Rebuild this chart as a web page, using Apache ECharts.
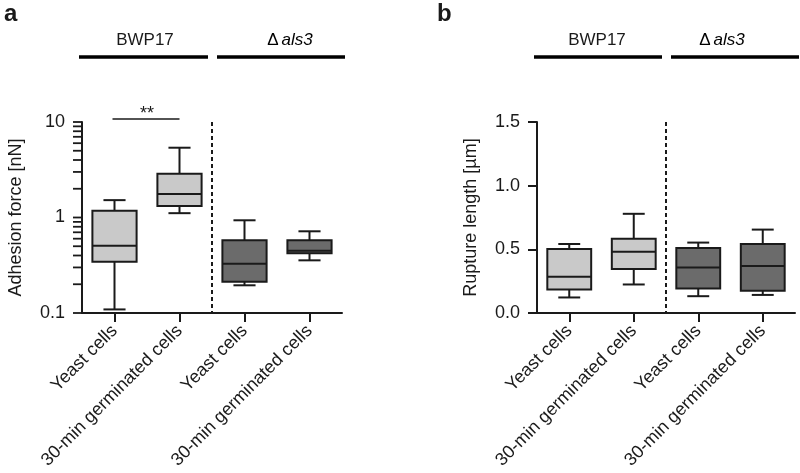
<!DOCTYPE html>
<html><head><meta charset="utf-8">
<script src="https://cdn.jsdelivr.net/npm/echarts@6/dist/echarts.min.js"></script>
<style>html,body{margin:0;padding:0;background:#fff}#c{width:800px;height:473px}</style>
</head><body><div id="c"></div>
<script>
const categories = ['Yeast cells', '30-min germinated cells', 'Yeast cells', '30-min germinated cells'];
const strainLabels = ['BWP17', 'als3'];
// each row: [min, Q1, median, Q3, max]
const adhesionForce = [
  [0.109, 0.344, 0.507, 1.18, 1.52],
  [1.11, 1.32, 1.76, 2.87, 5.38],
  [0.195, 0.213, 0.328, 0.577, 0.935],
  [0.356, 0.422, 0.449, 0.577, 0.717]
];
const ruptureLength = [
  [0.122, 0.185, 0.284, 0.503, 0.542],
  [0.224, 0.345, 0.481, 0.584, 0.779],
  [0.132, 0.193, 0.358, 0.511, 0.553],
  [0.142, 0.174, 0.369, 0.542, 0.655]
];
const adhesionTicks = [0.1, 1, 10];
const adhesionMinorTicks = [0.2, 0.3, 0.4, 0.5, 0.6, 0.7, 0.8, 0.9, 2, 3, 4, 5, 6, 7, 8, 9];
const ruptureTicks = [0, 0.5, 1.0, 1.5];
const significance = [[0, 1, 10, '**']];
const separatorBetween = [1, 2];
const boxColors = ['#c9c9c9', '#c9c9c9', '#6b6b6b', '#6b6b6b'];

const INK = '#1a1a1a';
const TICK = '#1a1a1a';
const FONT = '"Liberation Sans", Arial, sans-serif';

function boxData(rows) {
  return rows.map((r, i) => [i].concat(r));
}
function boxRender(params, api) {
  const i = api.value(0);
  const mn = api.value(1), q1 = api.value(2), md = api.value(3), q3 = api.value(4), mx = api.value(5);
  const cx = api.coord([i, md])[0];
  const bw = api.size([1, md])[0] * 0.68;
  const y = v => api.coord([i, v])[1];
  const hw = bw / 2, cw = bw / 4;
  const st = { stroke: INK, lineWidth: 2 };
  return {
    type: 'group',
    children: [
      { type: 'line', shape: { x1: cx, y1: y(mx), x2: cx, y2: y(q3) }, style: st },
      { type: 'line', shape: { x1: cx, y1: y(q1), x2: cx, y2: y(mn) }, style: st },
      { type: 'line', shape: { x1: cx - cw, y1: y(mx), x2: cx + cw, y2: y(mx) }, style: st },
      { type: 'line', shape: { x1: cx - cw, y1: y(mn), x2: cx + cw, y2: y(mn) }, style: st },
      { type: 'rect', shape: { x: cx - hw, y: y(q3), width: bw, height: y(q1) - y(q3) },
        style: { fill: boxColors[params.dataIndex], stroke: INK, lineWidth: 2 } },
      { type: 'line', shape: { x1: cx - hw, y1: y(md), x2: cx + hw, y2: y(md) }, style: st }
    ]
  };
}
function sigRender(params, api) {
  const p1 = api.coord([api.value(0), api.value(2)]);
  const p2 = api.coord([api.value(1), api.value(2)]);
  const yy = p1[1] - 3;
  return {
    type: 'group',
    children: [
      { type: 'line', shape: { x1: p1[0] - 2, y1: yy, x2: p2[0], y2: yy }, style: { stroke: INK, lineWidth: 1.6 } },
      { type: 'text', x: (p1[0] + p2[0]) / 2, y: yy + 4,
        style: { text: significance[params.dataIndex][3], fill: INK, font: '18px ' + FONT, align: 'center', verticalAlign: 'bottom' } }
    ]
  };
}
function sepRender(params, api) {
  const cs = params.coordSys;
  const x = (api.coord([api.value(0), api.value(2)])[0] + api.coord([api.value(1), api.value(2)])[0]) / 2;
  return { type: 'line', shape: { x1: x, y1: cs.y, x2: x, y2: cs.y + cs.height },
    style: { stroke: INK, lineWidth: 2, lineDash: [4, 3] } };
}
function yTickRender(params, api) {
  const cs = params.coordSys;
  const yy = api.coord([0, api.value(1)])[1];
  return { type: 'line', shape: { x1: cs.x - 9, y1: yy, x2: cs.x, y2: yy },
    style: { stroke: TICK, lineWidth: 1.8 } };
}

function xAxisFor(gi) {
  return {
    type: 'category', gridIndex: gi, data: categories, boundaryGap: true,
    axisLine: { show: true, lineStyle: { color: INK, width: 2 } },
    axisTick: { show: true, alignWithLabel: true, length: 9, lineStyle: { color: INK, width: 2 } },
    axisLabel: { rotate: 45, interval: 0, fontSize: 18, color: INK, margin: 15, fontFamily: FONT },
    splitLine: { show: false }
  };
}

const yTickData = adhesionTicks.concat(adhesionMinorTicks).map(v => [0, v]);

const chart = echarts.init(document.getElementById('c'), null, { renderer: 'canvas' });
chart.setOption({
  animation: false,
  backgroundColor: '#fff',
  textStyle: { fontFamily: FONT },
  grid: [
    { left: 82, top: 122, width: 260, height: 191 },
    { left: 537, top: 122, width: 258, height: 191 }
  ],
  xAxis: [xAxisFor(0), xAxisFor(1)],
  yAxis: [
    {
      type: 'log', logBase: 10, gridIndex: 0, min: 0.1, max: 10,
      name: 'Adhesion force [nN]', nameLocation: 'middle', nameGap: 57,
      nameTextStyle: { fontSize: 18, color: INK, fontFamily: FONT },
      axisLine: { show: true, lineStyle: { color: INK, width: 2 } },
      axisTick: { show: false },
      axisLabel: { fontSize: 18, color: INK, margin: 17, fontFamily: FONT,
        formatter: v => v >= 1 ? String(Math.round(v)) : String(+(+v).toPrecision(1)) },
      splitLine: { show: false }
    },
    {
      type: 'value', gridIndex: 1, min: 0, max: 1.5, interval: 0.5,
      name: 'Rupture length [µm]', nameLocation: 'middle', nameGap: 57,
      nameTextStyle: { fontSize: 18, color: INK, fontFamily: FONT },
      axisLine: { show: true, lineStyle: { color: INK, width: 2 } },
      axisTick: { show: true, length: 9, lineStyle: { color: TICK, width: 2 } },
      axisLabel: { fontSize: 18, color: INK, margin: 17, fontFamily: FONT, formatter: v => (+v).toFixed(1) },
      splitLine: { show: false }
    }
  ],
  series: [
    { type: 'custom', xAxisIndex: 0, yAxisIndex: 0, renderItem: yTickRender, clip: false,
      data: yTickData, encode: { x: 0, y: 1 } },
    { type: 'custom', xAxisIndex: 0, yAxisIndex: 0, renderItem: sepRender, clip: false,
      data: [[separatorBetween[0], separatorBetween[1], adhesionTicks[0]]], encode: { x: [0, 1] } },
    { type: 'custom', xAxisIndex: 0, yAxisIndex: 0, renderItem: boxRender, data: boxData(adhesionForce),
      encode: { x: 0, y: [1, 2, 3, 4, 5] } },
    { type: 'custom', xAxisIndex: 0, yAxisIndex: 0, renderItem: sigRender, clip: false,
      data: significance.map(s => [s[0], s[1], s[2]]), encode: { x: [0, 1], y: 2 } },
    { type: 'custom', xAxisIndex: 1, yAxisIndex: 1, renderItem: sepRender, clip: false,
      data: [[separatorBetween[0], separatorBetween[1], ruptureTicks[0]]], encode: { x: [0, 1] } },
    { type: 'custom', xAxisIndex: 1, yAxisIndex: 1, renderItem: boxRender, data: boxData(ruptureLength),
      encode: { x: 0, y: [1, 2, 3, 4, 5] } }
  ],
  graphic: [
    { type: 'text', left: 4, top: 2, style: { text: 'a', font: 'bold 24px ' + FONT, fill: INK } },
    { type: 'text', left: 437, top: 2, style: { text: 'b', font: 'bold 24px ' + FONT, fill: INK } },
    { type: 'line', shape: { x1: 79, y1: 57, x2: 208, y2: 57 }, style: { stroke: '#000', lineWidth: 3.5 } },
    { type: 'line', shape: { x1: 217, y1: 57, x2: 345, y2: 57 }, style: { stroke: '#000', lineWidth: 3.5 } },
    { type: 'text', x: 145, y: 40, style: { text: strainLabels[0], font: '17px ' + FONT, fill: INK, align: 'center', verticalAlign: 'middle' } },
    { type: 'text', x: 290, y: 40, style: { text: '{n|Δ}{i|' + strainLabels[1] + '}', align: 'center', verticalAlign: 'middle',
      rich: { n: { fontSize: 17, fontFamily: FONT, color: INK, padding: [0, 3, 0, 0] }, i: { fontSize: 17, fontFamily: FONT, fontStyle: 'italic', color: INK } } } },
    { type: 'line', shape: { x1: 534, y1: 57, x2: 662, y2: 57 }, style: { stroke: '#000', lineWidth: 3.5 } },
    { type: 'line', shape: { x1: 671, y1: 57, x2: 799, y2: 57 }, style: { stroke: '#000', lineWidth: 3.5 } },
    { type: 'text', x: 597, y: 40, style: { text: strainLabels[0], font: '17px ' + FONT, fill: INK, align: 'center', verticalAlign: 'middle' } },
    { type: 'text', x: 722, y: 40, style: { text: '{n|Δ}{i|' + strainLabels[1] + '}', align: 'center', verticalAlign: 'middle',
      rich: { n: { fontSize: 17, fontFamily: FONT, color: INK, padding: [0, 3, 0, 0] }, i: { fontSize: 17, fontFamily: FONT, fontStyle: 'italic', color: INK } } } }
  ]
});
</script></body></html>
